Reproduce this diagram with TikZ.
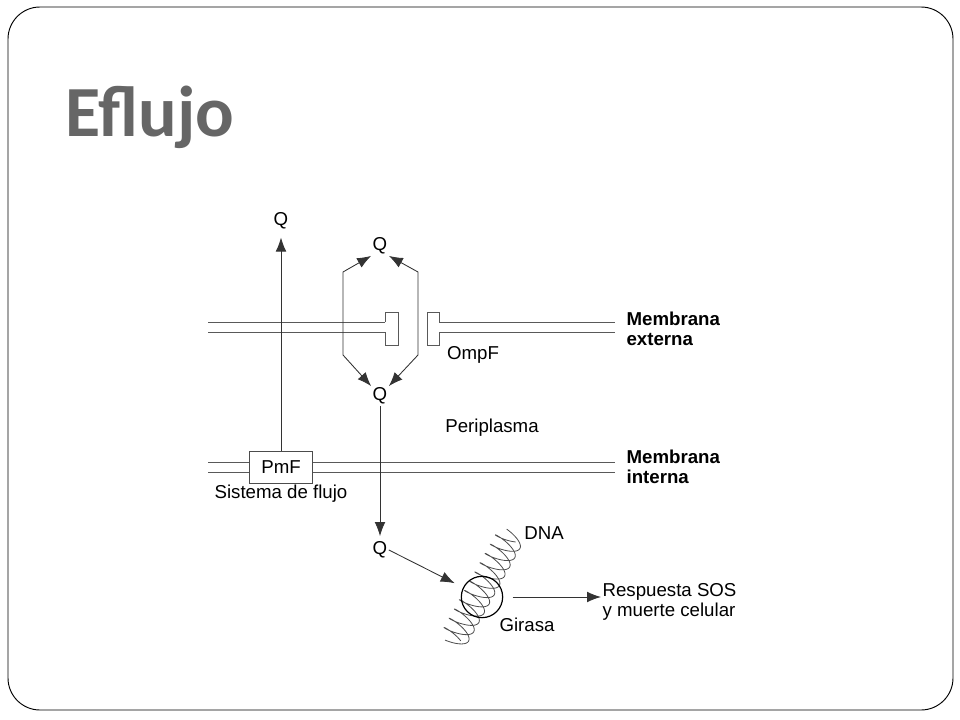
\documentclass[tikz,border=0pt]{standalone}
\usepackage{fontspec}
\setmainfont{Liberation Sans}
\newfontfamily\titlefont{Carlito}
\usetikzlibrary{positioning}
\usetikzlibrary{arrows.meta}
\usetikzlibrary{calc}

\tikzset{
  conn/.style={draw=black!80, line width=0.65pt},
  mem/.style={draw=black!65, line width=0.7pt},
  lbl/.style={inner sep=1pt, font=\fontsize{14}{15}\selectfont},
  bold lbl/.style={lbl, font=\fontsize{14}{15}\selectfont\bfseries, align=left, anchor=west},
  title/.style={anchor=base west, inner sep=0pt, text=black!60, font=\titlefont\fontsize{54}{54}\selectfont\bfseries},
}

\begin{document}
\begin{tikzpicture}[x=0.75pt, y=-0.75pt, >={Latex[length=10.5pt,width=8pt]}]
\useasboundingbox (0,0) rectangle (960,720);
\draw[rounded corners=24pt, line width=0.7pt] (8,7) rectangle (953,710);

% title
\node[title] (ttl) at (65,137) {Eflujo};

% membranes
\foreach \y in {322,332} {
  \draw[mem] (208,\y) -- (385,\y);
  \draw[mem] (439,\y) -- (615,\y);
}
\draw[mem] (385,322) -- (385,312) -- (398,312) -- (398,345) -- (385,345) -- (385,332);
\draw[mem] (439,322) -- (439,312) -- (427,312) -- (427,345) -- (439,345) -- (439,332);

\foreach \y in {462,472}
  \draw[mem] (208,\y) -- (615,\y);

% nodes
\node[lbl] (qout) at (281,221) {Q};
\node[lbl] (qtop) at (380,246) {Q};
\node[lbl] (qbot) at (380,396) {Q};
\node[lbl] (qin)  at (380,550) {Q};
\node[lbl, draw=black!70, fill=white, line width=0.7pt, minimum width=47pt, minimum height=24pt] (pmf) at (281,467) {PmF};
\node[lbl, below=0pt of pmf] (flujo) {Sistema de flujo};
\node[lbl] (ompf) at (473,355) {OmpF};
\node[lbl] (peri) at (492,428) {Periplasma};
\node[bold lbl] (mext) at (625,329) {Membrana\\externa};
\node[bold lbl] (mint) at (625,467) {Membrana\\interna};

% DNA helix
\begin{scope}[shift={(482,588)}, rotate=61]
  \foreach \ph in {0,180}
    \draw[black!70, line width=0.6pt] plot[domain=-60:60, samples=300, smooth]
      ({\x + 4*sin(\x*17+\ph)}, {14*cos(\x*17+\ph)});
\end{scope}

\node[lbl, draw, circle, line width=0.9pt, minimum size=31pt] (gyr) at (482,597) {};
\node[lbl] (dna) at (544,533) {DNA};
\node[lbl] (gir) at (527,625) {Girasa};
\node[lbl, align=left, anchor=west] (sos) at (601,602) {Respuesta SOS\\y muerte celular};

% lines
\draw[conn, ->, shorten >=5pt] (pmf.north) -- (qout.south);
\foreach \s/\x in {west/343, east/418}
  \draw[conn, <->] (qtop.south \s) -- (\x,272) -- (\x,355) -- (qbot.north \s);
\draw[conn, ->, shorten >=3pt] (qbot.south) -- (qin.north);
\draw[conn, ->, shorten >=7pt] (qin.east) -- (gyr);
\draw[conn, ->, shorten <=7pt] (gyr.east) -- (gyr.east -| sos.west);

\end{tikzpicture}
\end{document}
